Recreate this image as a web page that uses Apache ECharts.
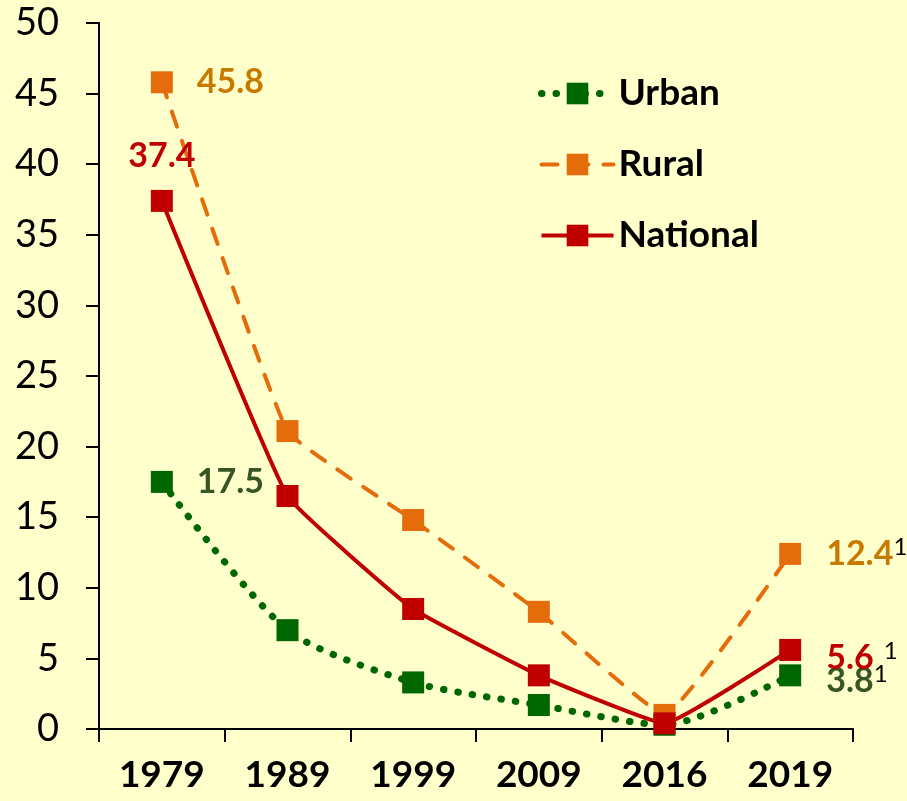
<!DOCTYPE html>
<html>
<head>
<meta charset="utf-8">
<script src="https://cdn.jsdelivr.net/npm/echarts@6/dist/echarts.min.js"></script>
<style>
  html, body { margin: 0; padding: 0; background: #FFFFCC; }
  #chart { width: 907px; height: 801px; }
</style>
</head>
<body>
<div id="chart"></div>
<script>
// data
const years = ["1979", "1989", "1999", "2009", "2016", "2019"];
const urban = [17.5, 7.0, 3.3, 1.7, 0.3, 3.8];
const rural = [45.8, 21.1, 14.8, 8.3, 1.0, 12.4];
const national = [37.4, 16.5, 8.5, 3.8, 0.4, 5.6];
const yTicks = [0, 5, 10, 15, 20, 25, 30, 35, 40, 45, 50];

const FONT = "Lato";

const urbanLine = { color: "#006600", width: 7, type: [0.5, 14], cap: "round" };
const ruralLine = { color: "#E46C0A", width: 4, type: [16, 15], cap: "round" };
const nationalLine = { color: "#C00000", width: 4 };

// only first and last points carry a value label
function withLabels(values, color, firstPos, firstDist, lastRaise, gap) {
  return values.map((v, i) => {
    if (i === 0) {
      return {
        value: v,
        label: {
          show: true, position: firstPos, distance: firstDist,
          color: color, fontFamily: FONT, fontWeight: "bold", fontSize: 34,
          formatter: () => v.toFixed(1)
        }
      };
    }
    if (i === values.length - 1) {
      return {
        value: v,
        label: {
          show: true, position: "right", distance: 25, offset: [0, lastRaise],
          fontFamily: FONT,
          formatter: () => "{v|" + v.toFixed(1) + "}{s|1}",
          rich: {
            v: { color: color, fontFamily: FONT, fontWeight: "bold", fontSize: 34 },
            s: { color: "#000", fontFamily: FONT, fontSize: 24, padding: [0, 0, 14, gap] }
          }
        }
      };
    }
    return v;
  });
}

const chart = echarts.init(document.getElementById("chart"));

chart.setOption({
  backgroundColor: "#FFFFCC",
  animation: false,
  grid: { left: 99, right: 54, top: 23, bottom: 72 },
  legend: {
    orient: "vertical",
    left: 533,
    top: 70,
    itemWidth: 72,
    itemHeight: 27,
    itemGap: 34,
    textStyle: { fontFamily: FONT, fontWeight: "bold", fontSize: 37, lineHeight: 31, color: "#000" },
    data: [
      { name: "Urban", lineStyle: urbanLine },
      { name: "Rural", lineStyle: ruralLine },
      { name: "National", lineStyle: nationalLine }
    ]
  },
  xAxis: {
    type: "category",
    data: years,
    boundaryGap: true,
    axisLine: { lineStyle: { color: "#000", width: 2 } },
    axisTick: { show: true, length: 13, lineStyle: { color: "#000", width: 2 } },
    axisLabel: { fontFamily: FONT, fontWeight: "bold", fontSize: 37, color: "#000", margin: 28 }
  },
  yAxis: {
    type: "value",
    min: yTicks[0],
    max: yTicks[yTicks.length - 1],
    interval: 5,
    axisLine: { show: true, lineStyle: { color: "#000", width: 2 } },
    axisTick: { show: true, length: 13, lineStyle: { color: "#000", width: 2 } },
    axisLabel: { fontFamily: FONT, fontSize: 38, color: "#000", margin: 40 },
    splitLine: { show: false }
  },
  series: [
    {
      name: "Urban",
      type: "line",
      smooth: 0.25,
      symbol: "rect",
      symbolSize: 22,
      itemStyle: { color: "#006600" },
      lineStyle: urbanLine,
      data: withLabels(urban, "#375623", "right", 24, 6, 0)
    },
    {
      name: "Rural",
      type: "line",
      smooth: 0.1,
      symbol: "rect",
      symbolSize: 22,
      itemStyle: { color: "#E46C0A" },
      lineStyle: ruralLine,
      data: withLabels(rural, "#C87A00", "right", 24, 0, 0)
    },
    {
      name: "National",
      type: "line",
      smooth: 0.1,
      symbol: "rect",
      symbolSize: 22,
      itemStyle: { color: "#C00000" },
      lineStyle: nationalLine,
      data: withLabels(national, "#C00000", "top", 17, 8, 10)
    }
  ]
});
</script>
</body>
</html>
